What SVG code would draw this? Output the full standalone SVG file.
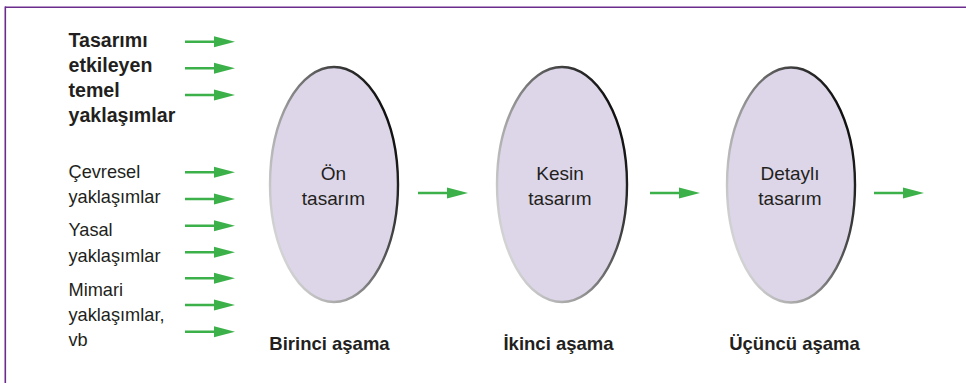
<svg xmlns="http://www.w3.org/2000/svg" width="966" height="383" viewBox="0 0 966 383">
<style>
.t{font-family:"Liberation Sans",Arial,sans-serif;font-size:18.2px;fill:#231f20}
.b{font-family:"Liberation Sans",Arial,sans-serif;font-size:19.6px;font-weight:bold;fill:#231f20}
.s{font-family:"Liberation Sans",Arial,sans-serif;font-size:18.5px;font-weight:bold;fill:#231f20;text-anchor:middle}
.e{font-family:"Liberation Sans",Arial,sans-serif;font-size:19px;fill:#231f20;text-anchor:middle}
.ell{fill:#ddd6e8;stroke:url(#rim);stroke-width:2.4}
.ln{stroke:#3cb14a;stroke-width:2.4;fill:none}
.hd{fill:#3cb14a}
</style>
<defs>
<linearGradient id="rim" x1="0" y1="1" x2="1" y2="0.35">
<stop offset="0" stop-color="#f2f2f2"/>
<stop offset="0.45" stop-color="#9a9a9a"/>
<stop offset="1" stop-color="#111"/>
</linearGradient>
<g id="arr">
<line class="ln" x1="0" y1="0" x2="33" y2="0"/>
<polygon class="hd" points="29,-5.5 50,0 29,5.5"/>
</g>
</defs>
<rect width="966" height="383" fill="#fff"/>
<g id="frame" stroke="#6b2d8b" stroke-width="1.6" fill="none">
<line x1="5" y1="7.3" x2="966" y2="7.3"/>
<line x1="5.3" y1="6.5" x2="5.3" y2="383"/>
</g>
<g id="inputs-main">
<text class="b" x="68.5" y="47">Tasarımı</text>
<text class="b" x="68.5" y="72">etkileyen</text>
<text class="b" x="68.5" y="97">temel</text>
<text class="b" x="68.5" y="122">yaklaşımlar</text>
</g>
<g id="inputs-other">
<text class="t" x="68.5" y="178">Çevresel</text>
<text class="t" x="68.5" y="203">yaklaşımlar</text>
<text class="t" x="68.5" y="236">Yasal</text>
<text class="t" x="68.5" y="262">yaklaşımlar</text>
<text class="t" x="68.5" y="296">Mimari</text>
<text class="t" x="68.5" y="321">yaklaşımlar,</text>
<text class="t" x="68.5" y="346">vb</text>
</g>
<g id="stage1">
<ellipse class="ell" cx="334" cy="184.5" rx="64" ry="117.5"/>
<text class="e" x="333.5" y="180">Ön</text>
<text class="e" x="333.5" y="205">tasarım</text>
<text class="s" x="329.5" y="350">Birinci aşama</text>
</g>
<g id="stage2">
<ellipse class="ell" cx="562" cy="184.5" rx="65" ry="117.5"/>
<text class="e" x="560" y="180">Kesin</text>
<text class="e" x="560" y="205">tasarım</text>
<text class="s" x="558.5" y="350">İkinci aşama</text>
</g>
<g id="stage3">
<ellipse class="ell" cx="791" cy="185" rx="64" ry="117.5"/>
<text class="e" x="790" y="180">Detaylı</text>
<text class="e" x="790" y="205">tasarım</text>
<text class="s" x="794.5" y="350">Üçüncü aşama</text>
</g>
<g id="connectors">
<use href="#arr" x="185" y="41.7"/>
<use href="#arr" x="185" y="68.3"/>
<use href="#arr" x="185" y="95"/>
<use href="#arr" x="185" y="172.3"/>
<use href="#arr" x="185" y="199"/>
<use href="#arr" x="185" y="225.7"/>
<use href="#arr" x="185" y="252.3"/>
<use href="#arr" x="185" y="278.3"/>
<use href="#arr" x="185" y="305"/>
<use href="#arr" x="185" y="331.7"/>
<use href="#arr" x="418" y="193"/>
<use href="#arr" x="650" y="193"/>
<use href="#arr" x="874" y="193"/>
</g>
</svg>
